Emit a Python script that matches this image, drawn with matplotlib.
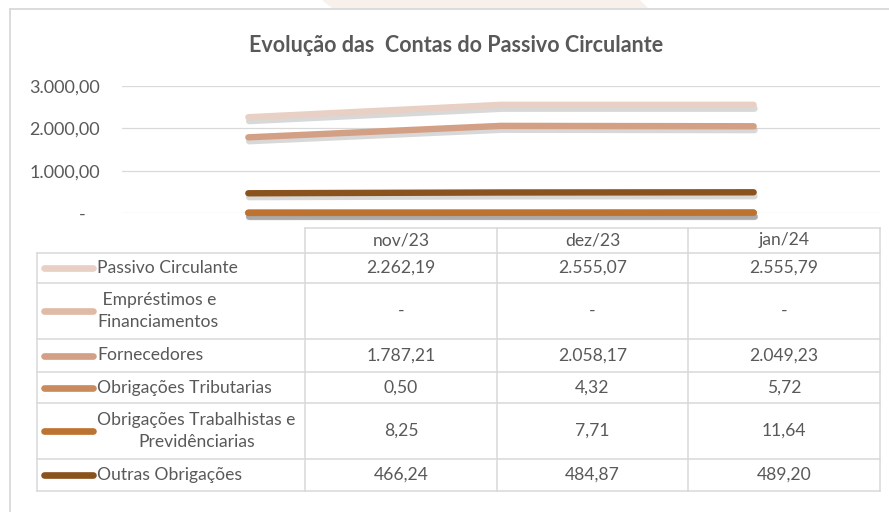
import matplotlib
matplotlib.use("Agg")
import matplotlib.pyplot as plt
import matplotlib.patheffects as pe
from matplotlib.lines import Line2D
from matplotlib.patches import Polygon

# dados
meses = ["nov/23", "dez/23", "jan/24"]
nomes = ["Passivo Circulante", " Empréstimos e\nFinanciamentos", "Fornecedores",
         "Obrigações Tributarias", "Obrigações Trabalhistas e\nPrevidênciarias", "Outras Obrigações"]
passivo = [2262.19, 2555.07, 2555.79]
emprestimos = [0.0, 0.0, 0.0]
fornecedores = [1787.21, 2058.17, 2049.23]
obrig_trib = [0.50, 4.32, 5.72]
obrig_trab = [8.25, 7.71, 11.64]
outras = [466.24, 484.87, 489.20]
series = [passivo, emprestimos, fornecedores, obrig_trib, obrig_trab, outras]
cores = ["#E8D0C5", "#DFBBA7", "#D3A086", "#C98A5D", "#BE722F", "#8A521D"]
yticks = [0, 1000, 2000, 3000]

txt = "#595959"
grade = "#D9D9D9"
fs = 12.6
plt.rcParams['font.family'] = ['Lato', 'DejaVu Sans']

W, H = 889, 512
fig = plt.figure(figsize=(W / 100, H / 100), dpi=100)


def fmt(v):
    if v == 0:
        return "-"
    s = f"{v:,.2f}"
    return s.replace(",", "X").replace(".", ",").replace("X", ".")


# overlay em pixels para moldura e tabela
ov = fig.add_axes([0, 0, 1, 1])
ov.set_xlim(0, W)
ov.set_ylim(H, 0)
ov.axis('off')
ov.plot([10, 10], [9, H], color=grade, lw=1.3)
ov.plot([10, W], [9, 9], color=grade, lw=1.3)
ov.add_patch(Polygon([(322, 0), (640, 0), (648, 8), (332, 8)], closed=True,
                     color="#F7F0EB", lw=0))

ov.text(456, 45, "Evolução das  Contas do Passivo Circulante", ha='center', va='center',
        fontsize=15.5, fontweight='bold', color=txt)

# grafico
ax = fig.add_axes([122 / W, 1 - 213 / H, (880 - 122) / W, (213 - 86) / H])
ax.set_xlim(0, 3)
ax.set_ylim(0, 3000)
xs = [i + 0.5 for i in range(len(meses))]
for s, c in zip(series, cores):
    ax.plot(xs, s, color=c, lw=4.6, solid_capstyle='round', solid_joinstyle='round',
            clip_on=False, zorder=3,
            path_effects=[pe.SimpleLineShadow(offset=(0.6, -2.8), shadow_color='#808080', alpha=0.3),
                          pe.Normal()])
ax.set_yticks(yticks)
ax.set_yticklabels([fmt(v) if v else "-   " for v in yticks])
ax.tick_params(axis='y', length=0, pad=16, labelsize=13, labelcolor=txt)
ax.set_xticks([])
ax.grid(axis='y', color=grade, lw=0.9)
ax.set_axisbelow(True)
for sp in ax.spines.values():
    sp.set_visible(False)

# tabela
cols = [37, 305, 497, 688, 880]
rows = [253, 283, 339, 372, 403, 459, 491]
tl = 1.1
ov.plot([cols[1], cols[-1]], [228, 228], color=grade, lw=tl)
for y in rows:
    ov.plot([cols[0], cols[-1]], [y, y], color=grade, lw=tl)
for i, x in enumerate(cols):
    top = rows[0] if i == 0 else 228
    ov.plot([x, x], [top, rows[-1]], color=grade, lw=tl)

for j, m in enumerate(meses):
    ov.text((cols[j + 1] + cols[j + 2]) / 2, 240.5, m, ha='center', va='center',
            fontsize=fs, color=txt)

for i, (nome, s, c) in enumerate(zip(nomes, series, cores)):
    yc = (rows[i] + rows[i + 1]) / 2
    ov.add_line(Line2D([44, 93], [yc, yc], color=c, lw=4.8, solid_capstyle='round'))
    ov.text(97, yc, nome, ha='left', va='center', multialignment='center',
            fontsize=fs, color=txt, linespacing=1.45)
    for j, v in enumerate(s):
        ov.text((cols[j + 1] + cols[j + 2]) / 2, yc, fmt(v), ha='center', va='center',
                fontsize=fs, color=txt)

fig.savefig("out.png", dpi=100, facecolor='white')
